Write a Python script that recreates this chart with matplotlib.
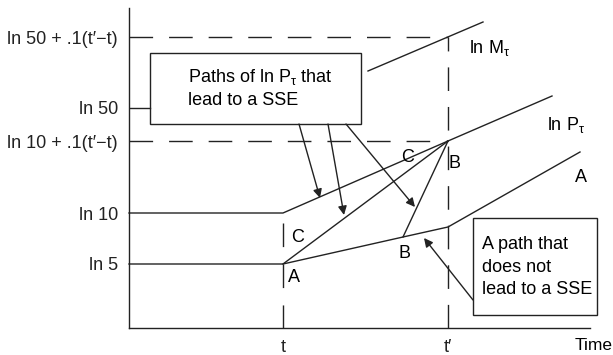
import matplotlib
matplotlib.use("Agg")
import matplotlib.pyplot as plt
from matplotlib.patches import Rectangle

plt.rcParams['font.family'] = ['Liberation Sans', 'DejaVu Sans']
plt.rcParams['mathtext.fontset'] = 'custom'
plt.rcParams['mathtext.rm'] = 'Liberation Sans'
plt.rcParams['mathtext.it'] = 'Liberation Sans'

# schematic levels (arbitrary units)
t0, t1, x_end, y_top = 15.4, 31.9, 46.1, 32.0
y_ticks = [6.4, 11.5, 18.7, 22.0, 29.1]
y_labels = ['ln 5', 'ln 10', 'ln 10 + .1(t\u2032\u2212t)', 'ln 50', 'ln 50 + .1(t\u2032\u2212t)']

# price paths
high_x = [0, t0, t1, 42.3]
high_y = [11.5, 11.5, 18.7, 23.2]
low_x = [0, t0, 27.4, t1, 45.1]
low_y = [6.4, 6.4, 9.1, 10.1, 17.6]
c_x, c_y = [t0, t1], [6.4, 18.7]
b_x, b_y = [27.4, t1], [9.1, 18.7]
m_x, m_y = [23.9, 35.4], [25.7, 30.6]

fs = 13
fig = plt.figure(figsize=(6.13, 3.55), dpi=100)
ax = fig.add_axes([129 / 613, 27 / 355, 461 / 613, 320 / 355])
ax.set_xlim(0, x_end)
ax.set_ylim(0, y_top)
for s in ['top', 'right']:
    ax.spines[s].set_visible(False)
for s in ['left', 'bottom']:
    ax.spines[s].set_linewidth(1.0)
    ax.spines[s].set_color('#222222')

ax.set_yticks(y_ticks)
ax.set_yticklabels(y_labels, fontsize=fs)
ax.set_xticks([t0, t1])
ax.set_xticklabels(['t', 't\u2032'], fontsize=fs)
ax.tick_params(length=0, pad=8, colors='#222222')
ax.text(44.6, -1.8, 'Time', fontsize=12.5, va='center', ha='left', clip_on=False)

lc = '#222222'
dash = dict(color=lc, lw=1.0, dashes=(17, 11.5))
ax.plot([0, t1], [29.1, 29.1], **dash)
ax.plot([0, t1], [18.7, 18.7], **dash)
ax.plot([t1, t1], [0, 29.1], **dash)
ax.plot([t0, t0], [10.5, 0], color=lc, lw=1.0, dashes=(17, 12.5))
ax.plot([0, 2.1], [22.0, 22.0], color=lc, lw=1.0)

for xs, ys in [(high_x, high_y), (low_x, low_y), (c_x, c_y), (b_x, b_y), (m_x, m_y)]:
    ax.plot(xs, ys, color=lc, lw=1.0, clip_on=False)

# boxes
ax.add_patch(Rectangle((2.1, 20.4), 21.1, 7.1, fill=False, ec=lc, lw=1.0, clip_on=False))
ax.text(5.9, 24.0, 'Paths of ln P$_{\\tau}$ that\nlead to a SSE', fontsize=fs,
        va='center', ha='left', linespacing=1.4)
ax.add_patch(Rectangle((34.4, 1.3), 12.4, 9.7, fill=False, ec=lc, lw=1.0, clip_on=False))
ax.text(35.3, 6.1, 'A path that\ndoes not\nlead to a SSE', fontsize=fs,
        va='center', ha='left', linespacing=1.45, clip_on=False)

arrow = dict(arrowstyle='-|>', color=lc, lw=1.0, mutation_scale=13, shrinkA=0, shrinkB=0)
for (x0, y0), (x1, y1) in [((17.0, 20.4), (19.1, 13.0)),
                           ((19.9, 20.4), (21.5, 11.3)),
                           ((21.7, 20.4), (28.6, 12.1)),
                           ((34.4, 2.8), (29.5, 9.0))]:
    ax.annotate('', xy=(x1, y1), xytext=(x0, y0), arrowprops=arrow)

# point labels
lab = dict(fontsize=fs, va='center', ha='center')
ax.text(16.9, 9.0, 'C', **lab)
ax.text(16.5, 5.0, 'A', **lab)
ax.text(27.9, 17.0, 'C', **lab)
ax.text(32.6, 16.5, 'B', **lab)
ax.text(27.5, 7.4, 'B', **lab)
ax.text(45.2, 15.1, 'A', **lab)
ax.text(41.8, 20.3, 'ln P$_{\\tau}$', fontsize=fs, va='center', ha='left')
ax.text(34.0, 28.0, 'ln M$_{\\tau}$', fontsize=fs, va='center', ha='left')

fig.savefig('out.png', dpi=100)
